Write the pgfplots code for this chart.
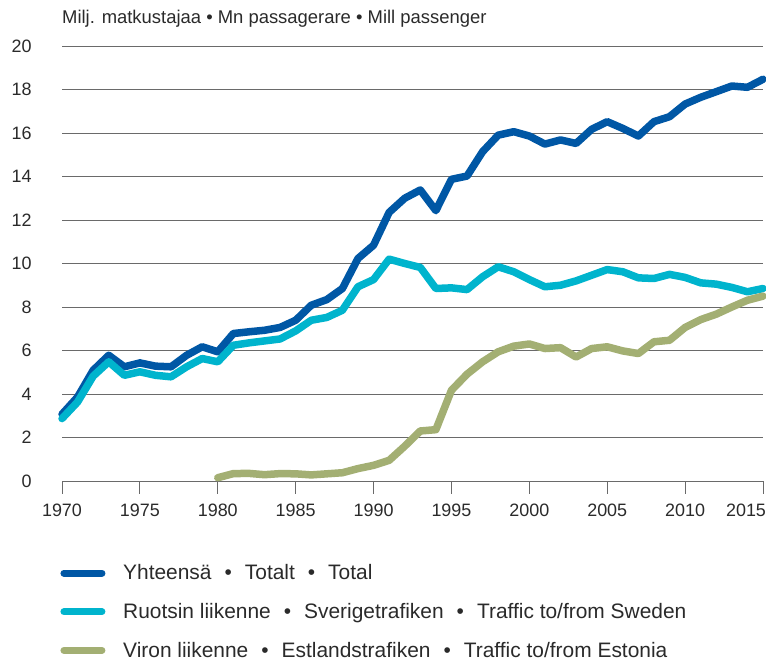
\documentclass[border=0pt]{standalone}
\usepackage{pgfplots}
\pgfplotsset{compat=1.18}
\usepackage{fontspec}
\setmainfont{Liberation Sans}
\definecolor{cTotal}{HTML}{0057A5}
\definecolor{cSwe}{HTML}{00B4CD}
\definecolor{cEst}{HTML}{A3AF73}
\definecolor{cGrid}{HTML}{6A6A6A}
\definecolor{cText}{HTML}{2A2A2A}
\begin{document}
\begin{tikzpicture}[x=1bp,y=1bp]
\useasboundingbox (0,0) rectangle (766,664);
\begin{axis}[
  at={(62bp,183bp)}, anchor=south west,
  scale only axis, width=701bp, height=435bp,
  xmin=1970, xmax=2015, ymin=0, ymax=20,
  clip=false,
  axis line style={draw=none},
  xtick={1970,1975,...,2015},
  xticklabels={1970,1975,1980,1985,1990,1995,2000,2005,2010,\hspace*{-34bp}2015},
  ytick={0,2,...,20},
  xticklabel style={yshift=-6bp},
  yticklabel style={xshift=-14bp},
  ymajorgrids,
  grid style={cGrid, line width=0.9bp},
  major tick length=13bp,
  xtick style={cGrid, line width=0.9bp},
  ytick style={draw=none},
  xtick pos=bottom, tick align=outside,
  ticklabel style={font=\fontsize{18}{21}\selectfont, text=cText},
  /pgf/number format/assume math mode=true,
  legend style={draw=none, fill=none, at={(-0.0025,-0.1875)}, anchor=north west,
    font=\fontsize{21}{24}\selectfont, text=cText,
    row sep=18bp, inner sep=0pt, cells={anchor=west}},
  legend image code/.code={\draw[#1, line width=7bp, line cap=round] (0bp,0bp) -- (38bp,0bp); \path (53.5bp,0bp);},
  every axis plot/.append style={line width=7.5bp, line join=round, line cap=round},
]
\draw[cGrid, line width=0.9bp] (axis cs:1970,0) -- (axis cs:2015,0);
\addplot[cTotal] coordinates {
(1970,3.07)(1971,3.86)(1972,5.09)(1973,5.78)(1974,5.25)(1975,5.43)(1976,5.28)(1977,5.25)
(1978,5.78)(1979,6.17)(1980,5.94)(1981,6.78)(1982,6.86)(1983,6.93)(1984,7.06)(1985,7.39)
(1986,8.08)(1987,8.34)(1988,8.85)(1989,10.23)(1990,10.84)(1991,12.35)(1992,13.0)(1993,13.38)
(1994,12.43)(1995,13.87)(1996,14.02)(1997,15.14)(1998,15.9)(1999,16.06)(2000,15.86)(2001,15.49)
(2002,15.68)(2003,15.52)(2004,16.17)(2005,16.52)(2006,16.21)(2007,15.86)(2008,16.52)(2009,16.75)
(2010,17.33)(2011,17.64)(2012,17.9)(2013,18.16)(2014,18.1)(2015,18.47)};
\addlegendentry{Yhteensä\hspace{13bp}•\hspace{13bp}Totalt\hspace{13bp}•\hspace{13bp}Total}
\addplot[cSwe] coordinates {
(1970,2.87)(1971,3.63)(1972,4.82)(1973,5.48)(1974,4.86)(1975,5.02)(1976,4.86)(1977,4.79)
(1978,5.25)(1979,5.63)(1980,5.48)(1981,6.24)(1982,6.35)(1983,6.44)(1984,6.53)(1985,6.9)
(1986,7.39)(1987,7.52)(1988,7.85)(1989,8.93)(1990,9.26)(1991,10.2)(1992,10.0)(1993,9.82)
(1994,8.85)(1995,8.88)(1996,8.8)(1997,9.39)(1998,9.85)(1999,9.62)(2000,9.26)(2001,8.93)
(2002,9.0)(2003,9.2)(2004,9.46)(2005,9.72)(2006,9.62)(2007,9.34)(2008,9.31)(2009,9.5)
(2010,9.36)(2011,9.11)(2012,9.05)(2013,8.9)(2014,8.7)(2015,8.85)};
\addlegendentry{Ruotsin liikenne\hspace{13bp}•\hspace{13bp}Sverigetrafiken\hspace{13bp}•\hspace{13bp}Traffic to/from Sweden}
\addplot[cEst] coordinates {
(1980,0.15)(1981,0.34)(1982,0.35)(1983,0.29)(1984,0.34)(1985,0.33)(1986,0.28)(1987,0.33)
(1988,0.38)(1989,0.57)(1990,0.72)(1991,0.95)(1992,1.6)(1993,2.3)(1994,2.36)(1995,4.17)
(1996,4.91)(1997,5.48)(1998,5.94)(1999,6.2)(2000,6.3)(2001,6.09)(2002,6.13)(2003,5.7)
(2004,6.09)(2005,6.17)(2006,5.98)(2007,5.86)(2008,6.4)(2009,6.47)(2010,7.06)(2011,7.42)
(2012,7.67)(2013,8.0)(2014,8.31)(2015,8.5)};
\addlegendentry{Viron liikenne\hspace{13bp}•\hspace{13bp}Estlandstrafiken\hspace{13bp}•\hspace{13bp}Traffic to/from Estonia}
\end{axis}
\node[anchor=west, inner sep=0pt, text=cText, font=\fontsize{18.5}{22}\selectfont] at (62,645) {Milj. matkustajaa • Mn passagerare • Mill passenger};
\end{tikzpicture}
\end{document}
